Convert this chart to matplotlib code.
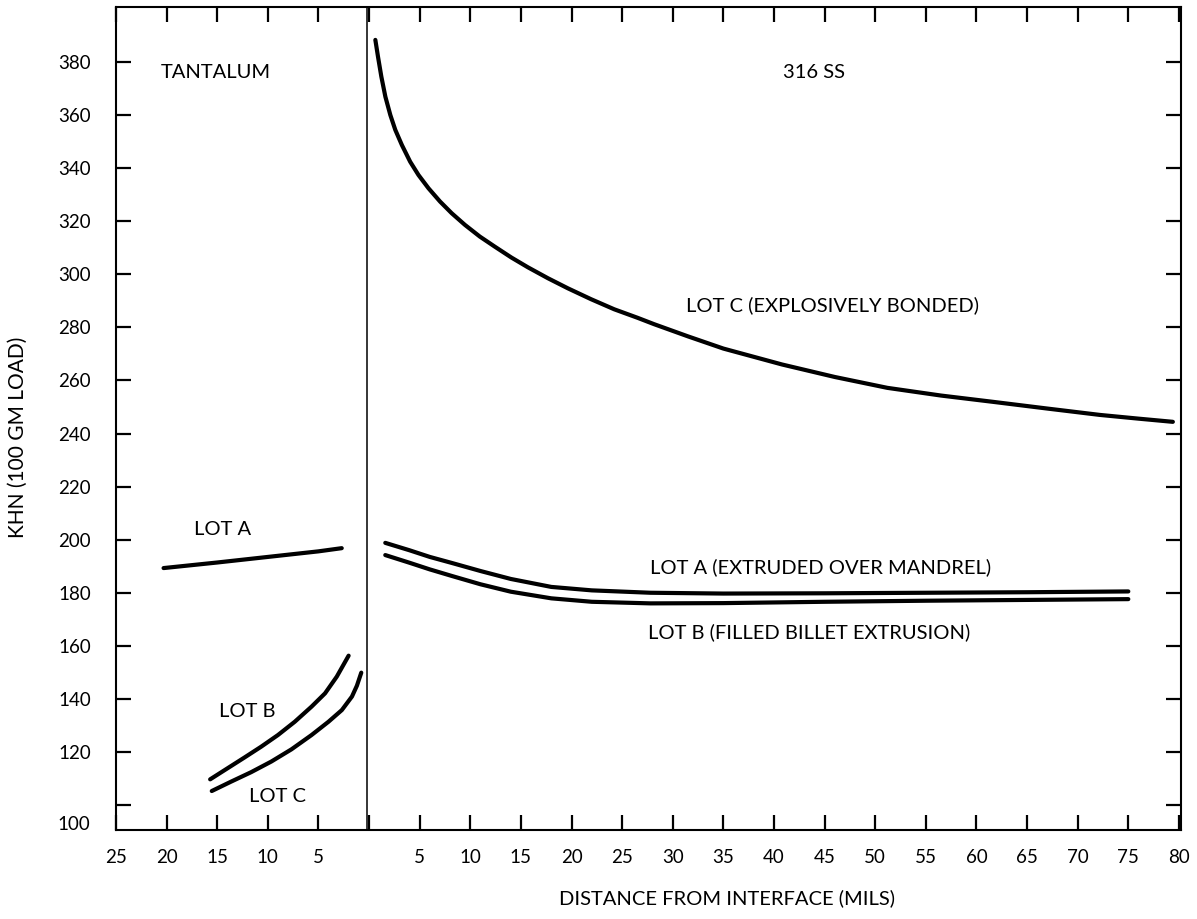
import matplotlib
matplotlib.use("Agg")
import matplotlib.pyplot as plt

# tantalum side: distance from interface (mils), plotted to the left of 0
ta_lot_a_x = [20.3, 15.0, 10.0, 5.0, 2.7]
ta_lot_a_y = [189.3, 191.4, 193.5, 195.6, 196.8]
ta_lot_b_x = [15.7, 13.97, 12.32, 10.66, 9.0, 7.34, 5.68, 4.35, 3.19, 2.02]
ta_lot_b_y = [109.7, 113.9, 117.9, 122.0, 126.4, 131.4, 137.1, 142.1, 148.4, 156.3]
ta_lot_c_x = [15.54, 13.65, 11.65, 9.66, 7.67, 5.68, 4.01, 2.69, 1.69, 1.2, 0.77]
ta_lot_c_y = [105.3, 108.8, 112.4, 116.4, 121.0, 126.4, 131.4, 135.8, 140.9, 145.0, 149.9]

# 316 SS side
ss_lot_c_x = [0.62, 0.88, 1.21, 1.61, 2.10, 2.59, 3.24, 4.06, 4.88, 5.87, 7.01, 8.16,
              9.47, 10.94, 12.42, 14.06, 15.70, 17.67, 19.64, 21.93, 24.22, 26.52,
              28.15, 31.5, 35.0, 40.8, 46.0, 51.2, 56.5, 61.7, 67.0, 72.2, 76.0, 79.4]
ss_lot_c_y = [388.3, 382.0, 374.5, 366.9, 360.0, 354.4, 348.7, 342.4, 337.4, 332.4,
              327.4, 323.0, 318.6, 314.2, 310.4, 306.3, 302.6, 298.5, 294.7, 290.6,
              286.8, 283.6, 281.2, 276.6, 272.0, 266.0, 261.3, 257.2, 254.3, 251.9,
              249.4, 247.0, 245.6, 244.4]
ss_lot_a_x = [1.6, 4.0, 6.0, 8.2, 11.0, 14.0, 18.0, 22.0, 27.8, 35.0, 45.0, 55.0, 65.0, 75.0]
ss_lot_a_y = [198.8, 196.0, 193.5, 191.2, 188.2, 185.2, 182.2, 180.9, 180.0, 179.7, 179.8, 180.0, 180.2, 180.5]
ss_lot_b_x = [1.6, 4.0, 6.0, 8.2, 11.0, 14.0, 18.0, 22.0, 27.8, 35.0, 45.0, 55.0, 65.0, 75.0]
ss_lot_b_y = [194.2, 191.3, 188.8, 186.3, 183.2, 180.4, 177.9, 176.6, 176.0, 176.1, 176.6, 177.0, 177.3, 177.6]

x_ticks = [-25, -20, -15, -10, -5, 0, 5, 10, 15, 20, 25, 30, 35, 40, 45, 50, 55, 60, 65, 70, 75, 80]
x_tick_labels = ["25", "20", "15", "10", "5", "", "5", "10", "15", "20", "25", "30", "35",
                 "40", "45", "50", "55", "60", "65", "70", "75", "80"]
y_ticks = [100, 120, 140, 160, 180, 200, 220, 240, 260, 280, 300, 320, 340, 360, 380]

plt.rcParams['font.family'] = ['Lato', 'DejaVu Sans']

fig = plt.figure(figsize=(11.97, 9.19), dpi=100)
ax = fig.add_axes([0.0969, 0.0968, 0.8897, 0.8956])

lw = 3.0
ax.plot([-v for v in ta_lot_a_x], ta_lot_a_y, color='black', lw=lw, solid_capstyle='round')
ax.plot([-v for v in ta_lot_b_x], ta_lot_b_y, color='black', lw=lw, solid_capstyle='round')
ax.plot([-v for v in ta_lot_c_x], ta_lot_c_y, color='black', lw=lw, solid_capstyle='round')
ax.plot(ss_lot_c_x, ss_lot_c_y, color='black', lw=lw, solid_capstyle='round', solid_joinstyle='round')
ax.plot(ss_lot_a_x, ss_lot_a_y, color='black', lw=lw, solid_capstyle='round')
ax.plot(ss_lot_b_x, ss_lot_b_y, color='black', lw=lw, solid_capstyle='round')

# interface line
ax.axvline(-0.2, color='black', lw=1.1)

ax.set_xlim(-25, 80.2)
ax.set_ylim(90.6, 400.7)
ax.set_xticks(x_ticks)
ax.set_xticklabels(x_tick_labels)
ax.set_yticks(y_ticks)
ax.set_yticklabels([""] + [str(v) for v in y_ticks[1:]])
ax.tick_params(direction='in', length=11, width=1.6, top=True, right=True,
               labelsize=13.5, colors='black')
ax.tick_params(axis='x', pad=14)
ax.tick_params(axis='y', pad=18)
for s in ax.spines.values():
    s.set_linewidth(1.5)

# the "100" label sits at the bottom corner in the original
ax.text(-0.024, 92.5, "100", transform=ax.get_yaxis_transform(), ha='right',
        va='center', fontsize=13.5)

fs = 14.5
ax.text(-20.6, 376.2, "TANTALUM", fontsize=fs, va='center')
ax.text(44.0, 376.2, "316 SS", fontsize=fs, va='center', ha='center')
ax.text(31.3, 288.4, "LOT C (EXPLOSIVELY BONDED)", fontsize=fs, va='center')
ax.text(-17.3, 203.7, "LOT A", fontsize=fs, va='center')
ax.text(27.8, 189.7, "LOT A (EXTRUDED OVER MANDREL)", fontsize=fs, va='center')
ax.text(27.6, 165.2, "LOT B (FILLED BILLET EXTRUSION)", fontsize=fs, va='center')
ax.text(-14.8, 135.1, "LOT B", fontsize=fs, va='center')
ax.text(-11.9, 103.1, "LOT C", fontsize=fs, va='center')

fig.text(18 / 1197, 1 - 437 / 919, "KHN (100 GM LOAD)", rotation=90,
         ha='center', va='center', fontsize=15)
fig.text(727 / 1197, 1 - 898 / 919, "DISTANCE FROM INTERFACE (MILS)",
         ha='center', va='center', fontsize=14.5)

fig.savefig("out.png", dpi=100)
